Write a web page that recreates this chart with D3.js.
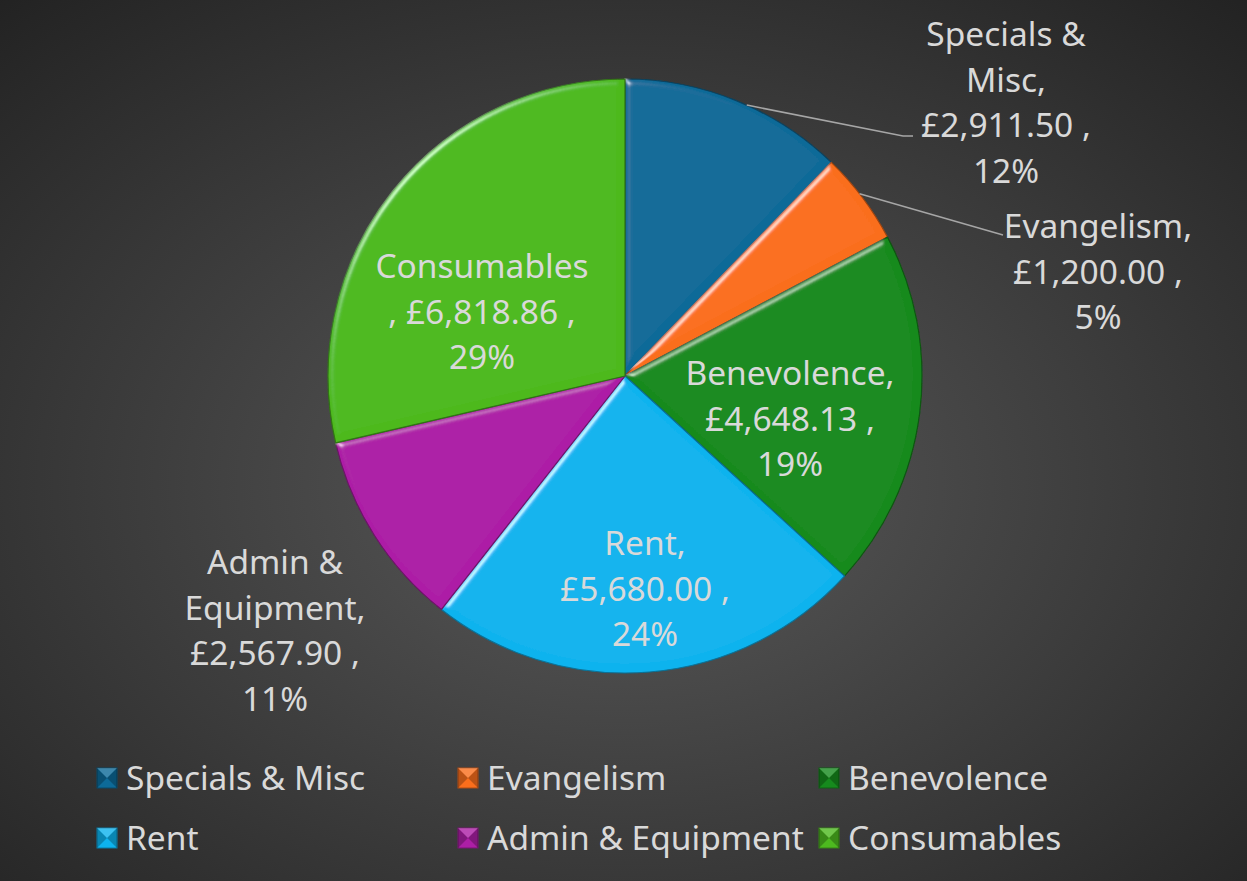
<!DOCTYPE html>
<html>
<head>
<meta charset="utf-8">
<script src="https://cdn.jsdelivr.net/npm/d3@7"></script>
<style>
  html, body { margin: 0; padding: 0; background: #2a2a2a; }
  svg { display: block; }
  text { font-family: "Noto Sans", "Open Sans", sans-serif; fill: #d9d9d9; }
</style>
</head>
<body>
<svg id="chart" width="1247" height="881"></svg>
<script>
// data
var categories = ["Specials & Misc", "Evangelism", "Benevolence", "Rent", "Admin & Equipment", "Consumables"];
var amounts = [2911.50, 1200.00, 4648.13, 5680.00, 2567.90, 6818.86];
var percentLabels = ["12%", "5%", "19%", "24%", "11%", "29%"];
var colors = ["#0d6a98", "#fa6e1c", "#168a1d", "#0db3ee", "#ad1fa6", "#4db91f"];
// how each data label wraps
var labelLines = [
    ["Specials &", "Misc,", "{v} ,", "{p}"],
    ["Evangelism,", "{v} ,", "{p}"],
    ["Benevolence,", "{v} ,", "{p}"],
    ["Rent,", "{v} ,", "{p}"],
    ["Admin &", "Equipment,", "{v} ,", "{p}"],
    ["Consumables", ",  {v} ,", "{p}"]
];

var width = 1247, height = 881;
var cx = 625, cy = 376, radius = 297;
var fontSize = 33.5;

var svg = d3.select("#chart");
var defs = svg.append("defs");

// background
var bg = defs.append("radialGradient")
    .attr("id", "bg")
    .attr("cx", "50%").attr("cy", "55%").attr("r", "75%");
bg.append("stop").attr("offset", "0%").attr("stop-color", "#5a5a5a");
bg.append("stop").attr("offset", "100%").attr("stop-color", "#222222");
svg.append("rect")
    .attr("width", width).attr("height", height)
    .attr("fill", "url(#bg)");

// bevel look for the slices
var bevel = defs.append("filter")
    .attr("id", "bevel")
    .attr("x", "-10%").attr("y", "-10%")
    .attr("width", "120%").attr("height", "120%");
bevel.append("feGaussianBlur")
    .attr("in", "SourceAlpha").attr("stdDeviation", 3.5).attr("result", "blur");
var spec = bevel.append("feSpecularLighting")
    .attr("in", "blur").attr("surfaceScale", 3)
    .attr("specularConstant", 0.6).attr("specularExponent", 70)
    .attr("lighting-color", "#ffffff").attr("result", "spec");
spec.append("feDistantLight").attr("azimuth", 225).attr("elevation", 45);
bevel.append("feComposite")
    .attr("in", "spec").attr("in2", "SourceAlpha")
    .attr("operator", "in").attr("result", "specIn");
bevel.append("feComposite")
    .attr("in", "SourceGraphic").attr("in2", "specIn")
    .attr("operator", "arithmetic")
    .attr("k1", 0).attr("k2", 1).attr("k3", 0.8).attr("k4", 0);

var data = categories.map((c, i) => ({
    name: c,
    value: amounts[i],
    pct: percentLabels[i],
    color: colors[i],
    lines: labelLines[i]
}));

var pie = d3.pie().sort(null).value(d => d.value);
var arc = d3.arc().innerRadius(0).outerRadius(radius);
var arcs = pie(data);

var pieG = svg.append("g").attr("transform", "translate(" + cx + "," + cy + ")");

pieG.selectAll("path.slice")
    .data(arcs)
    .enter()
    .append("path")
    .attr("class", "slice")
    .attr("d", arc)
    .attr("fill", d => d.data.color)
    .attr("stroke", d => d3.color(d.data.color).darker(1.3))
    .attr("stroke-width", 1.2)
    .attr("filter", "url(#bevel)");

// data labels
var money = d3.format(",.2f");
// label centres (first line) and leader lines for the outside ones
var labelPos = [
    { x: 1006, y: 34, outside: true, anchorFrac: 0.55, elbow: [903, 136], end: [913, 136] },
    { x: 1098, y: 226, outside: true, anchorFrac: 0.45, elbow: [1003, 235], end: [1003, 235] },
    { x: 790, y: 373 },
    { x: 645, y: 543 },
    { x: 275, y: 562 },
    { x: 482, y: 266 }
];
var lineH = 45.8;

var labelG = svg.append("g");
arcs.forEach((a, i) => {
    var pos = labelPos[i];
    var t = labelG.append("text")
        .attr("text-anchor", "middle")
        .attr("font-size", fontSize);
    a.data.lines.forEach((ln, k) => {
        var s = ln.replace("{v}", "£" + money(a.data.value)).replace("{p}", a.data.pct);
        t.append("tspan")
            .attr("x", pos.x)
            .attr("y", pos.y + k * lineH)
            .attr("dy", "0.35em")
            .text(s);
    });
    if (pos.outside) {
        var ang = a.startAngle + (a.endAngle - a.startAngle) * pos.anchorFrac;
        var sx = cx + radius * Math.sin(ang);
        var sy = cy - radius * Math.cos(ang);
        labelG.append("polyline")
            .attr("points", [[sx, sy], pos.elbow, pos.end].map(p => p.join(",")).join(" "))
            .attr("fill", "none")
            .attr("stroke", "#a6a6a6")
            .attr("stroke-width", 1.5);
    }
});

// legend
var legendCols = [97, 458, 819];
var legendRows = [778, 838];
var legend = svg.append("g");
data.forEach((d, i) => {
    var lx = legendCols[i % 3];
    var ly = legendRows[Math.floor(i / 3)];
    var g = legend.append("g").attr("transform", "translate(" + lx + "," + ly + ")");
    var s = 20;
    g.append("rect")
        .attr("x", 0).attr("y", -s / 2)
        .attr("width", s).attr("height", s)
        .attr("fill", d.color)
        .attr("stroke", d3.color(d.color).darker(1))
        .attr("stroke-width", 1);
    // side shading of the little beveled square
    g.append("path")
        .attr("d", "M0," + (-s / 2) + " L" + (s / 2) + ",0 L0," + (s / 2) + "Z")
        .attr("fill", "#000").attr("opacity", 0.25);
    g.append("path")
        .attr("d", "M" + s + "," + (-s / 2) + " L" + (s / 2) + ",0 L" + s + "," + (s / 2) + "Z")
        .attr("fill", "#000").attr("opacity", 0.25);
    g.append("path")
        .attr("d", "M0," + (-s / 2) + " L" + s + "," + (-s / 2) + " L" + (s / 2) + ",0Z")
        .attr("fill", "#fff").attr("opacity", 0.2);
    g.append("text")
        .attr("x", 29).attr("y", 0)
        .attr("dy", "0.35em")
        .attr("font-size", fontSize)
        .text(d.name);
});
</script>
</body>
</html>
